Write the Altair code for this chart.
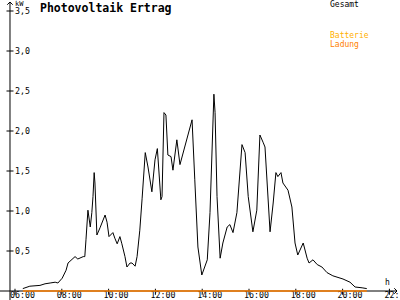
import altair as alt
import pandas as pd

# ---- data ----
times = ["06:20","06:38","07:04","07:17","07:30","07:43","07:50","08:01","08:11","08:16",
         "08:34","08:41","08:55","08:59","09:02","09:07","09:13","09:17","09:20","09:23",
         "09:25","09:30","09:38","09:51","09:56","10:01","10:11","10:16","10:22","10:29",
         "10:34","10:42","10:47","10:55","11:00","11:08","11:13","11:20","11:26","11:34",
         "11:41","11:51","11:59","12:05","12:14","12:17","12:22","12:27","12:32","12:40",
         "12:45","12:55","13:03","13:34","13:41","13:49","13:59","14:13","14:20","14:30",
         "14:33","14:38","14:46","14:53","15:04","15:11","15:19","15:29","15:42","15:50",
         "15:58","16:10","16:20","16:28","16:36","16:41","16:54","17:02","17:09","17:14",
         "17:22","17:27","17:40","17:50","17:58","18:05","18:19","18:29","18:34","18:44",
         "18:55","19:07","19:20","19:35","20:01","20:19","20:32","20:50","21:02"]
gesamt = [0.03,0.06,0.07,0.09,0.10,0.11,0.10,0.16,0.26,0.35,
          0.43,0.40,0.43,0.43,0.64,1.01,0.80,0.98,1.18,1.48,
          1.35,0.70,0.79,0.95,0.86,0.68,0.73,0.66,0.59,0.68,
          0.59,0.43,0.30,0.35,0.35,0.31,0.43,0.76,1.16,1.73,
          1.55,1.24,1.64,1.78,1.14,1.18,2.23,2.20,1.70,1.68,
          1.51,1.89,1.58,2.14,1.39,0.55,0.20,0.39,0.98,2.46,
          2.23,1.18,0.41,0.60,0.80,0.83,0.73,0.98,1.83,1.73,
          1.18,0.74,1.01,1.95,1.86,1.80,0.74,1.10,1.48,1.43,
          1.48,1.35,1.26,1.05,0.60,0.45,0.60,0.41,0.35,0.39,
          0.33,0.30,0.23,0.19,0.15,0.11,0.05,0.04,0.03]
ladung = [0.0] * len(times)

x_ticks = [6, 8, 10, 12, 14, 16, 18, 20, 22]
x_tick_labels = ["06:00","08:00","10:00","12:00","14:00","16:00","18:00","20:00","22:"]
y_ticks = [0.5, 1.0, 1.5, 2.0, 2.5, 3.0, 3.5]
y_tick_labels = ["0,5","1,0","1,5","2,0","2,5","3,0","3,5"]

title_text = "Photovoltaik Ertrag"
legend_names = ["Gesamt", "Batterie", "Ladung"]
legend_colors = ["#000000", "#FFB000", "#FF8000"]

# ---- tables ----
def to_h(t):
    hh, mm = t.split(":")
    return int(hh) + int(mm) / 60.0

df = pd.DataFrame({"h": [to_h(t) for t in times], "kw": gesamt, "lad": ladung})
xt = pd.DataFrame({"h": x_ticks, "label": x_tick_labels})
yt = pd.DataFrame({"kw": y_ticks, "label": y_tick_labels})
one = pd.DataFrame({"k": [0]})

X_MIN, X_MAX = 5.359, 22.453
Y_MIN, Y_MAX = -0.1125, 3.6375
Y_AXIS_H = 5.786
X_END = 22.325
Y_TOP = 3.6125

xs = alt.Scale(domain=[X_MIN, X_MAX], nice=False, zero=False)
ys = alt.Scale(domain=[Y_MIN, Y_MAX], nice=False, zero=False)
FONT = "DejaVu Sans Mono"

single = alt.Chart(one)

# axes lines
x_axis = single.mark_rule(color="black", strokeWidth=1).encode(
    x=alt.datum(X_MIN, scale=xs, axis=None), x2=alt.datum(X_END),
    y=alt.datum(0, scale=ys, axis=None))
y_axis = single.mark_rule(color="black", strokeWidth=1).encode(
    x=alt.datum(Y_AXIS_H), y=alt.datum(Y_MIN), y2=alt.datum(Y_TOP))

# arrows
x_arrow = single.mark_point(shape="M -1 -1 L 0 0 L -1 1", filled=False, color="black",
                            opacity=1, strokeWidth=1, size=30).encode(
    x=alt.datum(X_END), y=alt.datum(0))
y_arrow = single.mark_point(shape="M -1 1 L 0 0 L 1 1", filled=False, color="black",
                            opacity=1, strokeWidth=1, size=30).encode(
    x=alt.datum(Y_AXIS_H), y=alt.datum(Y_TOP))

# ticks
x_tick_marks = alt.Chart(xt).mark_tick(orient="vertical", size=6, thickness=1, color="black", opacity=1).encode(
    x="h:Q", y=alt.datum(-0.01))
y_tick_marks = alt.Chart(yt).mark_tick(orient="horizontal", size=7, thickness=1, color="black", opacity=1).encode(
    x=alt.datum(Y_AXIS_H), y="kw:Q")

x_labels = alt.Chart(xt).mark_text(font=FONT, fontSize=8.3, align="left", baseline="middle",
                                   dx=-5, color="black").encode(
    x="h:Q", y=alt.value(296), text="label:N")
y_labels = alt.Chart(yt).mark_text(font=FONT, fontSize=8.3, align="left", baseline="middle",
                                   dy=0.5, color="black").encode(
    x=alt.value(15), y="kw:Q", text="label:N")

def label(txt, x, y, color="black", size=8.0, weight="normal", baseline="middle"):
    return single.mark_text(font=FONT, fontSize=size, fontWeight=weight, align="left",
                            baseline=baseline, color=color).encode(
        x=alt.value(x), y=alt.value(y), text=alt.value(txt))

unit_kw = label("kW", 15, 3.5, size=7)
unit_h = label("h", 385, 283)
title = label(title_text, 40, 12, size=11.5, weight="bold", baseline="alphabetic")
leg_g = label(legend_names[0], 330, 4.5, color=legend_colors[0])
leg_b = label(legend_names[1], 330, 35.5, color=legend_colors[1])
leg_l = label(legend_names[2], 330, 44.5, color=legend_colors[2])

line_g = alt.Chart(df).mark_line(color="black", strokeWidth=1).encode(x="h:Q", y="kw:Q")
line_l = alt.Chart(df).mark_line(color=legend_colors[2], strokeWidth=1.5).encode(x="h:Q", y="lad:Q")

chart = alt.layer(
    x_axis, y_axis, x_arrow, y_arrow, x_tick_marks, y_tick_marks,
    x_labels, y_labels, unit_kw, unit_h, title, leg_g, leg_b, leg_l,
    line_g, line_l
).resolve_scale(x="shared", y="shared").properties(
    width=400, height=300, autosize=alt.AutoSizeParams(type="none"), padding=0,
    background="white"
).configure_view(stroke=None)

chart.save("out.html", embed_options={"renderer": "svg", "actions": False})
